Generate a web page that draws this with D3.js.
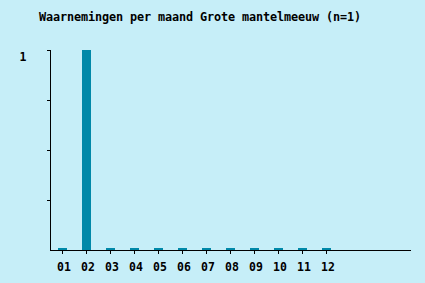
<!DOCTYPE html>
<html>
<head>
<meta charset="utf-8">
<script src="https://cdn.jsdelivr.net/npm/d3@7"></script>
<style>
  html, body { margin: 0; padding: 0; background: #c6eef8; }
  svg { display: block; }
  text { font-family: "DejaVu Sans Mono", monospace; font-weight: bold; fill: #000; }
</style>
</head>
<body>
<svg id="chart" width="425" height="283"></svg>
<script>
const title = "Waarnemingen per maand Grote mantelmeeuw (n=1)";
const months = ["01","02","03","04","05","06","07","08","09","10","11","12"];
const counts = [0, 1, 0, 0, 0, 0, 0, 0, 0, 0, 0, 0];
const slots = months.concat(["s13","s14","s15"]);
const yTicks = [0, 0.25, 0.5, 0.75, 1];
const yLabels = [1];

const svg = d3.select("#chart");
svg.append("rect").attr("width", 425).attr("height", 283).attr("fill", "#c6eef8");

const x = d3.scaleBand().domain(slots).range([50, 410]);
const y = d3.scaleLinear().domain([0, 1]).range([250, 50]);
const barW = 9;
const minH = 2;

svg.append("text")
  .attr("x", 39).attr("y", 20.5)
  .attr("textLength", 322)
  .attr("lengthAdjust", "spacing")
  .style("font-size", "11.8px")
  .text(title);

// bars
svg.selectAll("rect.bar").data(months.map((m, i) => ({m, v: counts[i]})))
  .enter().append("rect")
  .attr("class", "bar")
  .attr("x", d => x(d.m) + x.bandwidth() / 2 - barW / 2 + 0.5)
  .attr("width", barW)
  .attr("y", d => Math.min(y(d.v), y(0) - minH))
  .attr("height", d => Math.max(y(0) - y(d.v), minH))
  .attr("fill", "#0088a8");

// y axis line and ticks
const axisColor = "#000";
svg.append("line")
  .attr("x1", 50.5).attr("x2", 50.5)
  .attr("y1", y(1)).attr("y2", y(0) + 0.5)
  .attr("stroke", axisColor).attr("stroke-width", 1);
svg.selectAll("line.ytick").data(yTicks.filter(t => t > 0)).enter().append("line")
  .attr("class", "ytick")
  .attr("x1", 47).attr("x2", 50.5)
  .attr("y1", d => Math.round(y(d)) + 0.5).attr("y2", d => Math.round(y(d)) + 0.5)
  .attr("stroke", axisColor);
svg.selectAll("text.ylab").data(yLabels).enter().append("text")
  .attr("class", "ylab")
  .attr("x", 23).attr("y", d => y(d) + 11)
  .attr("text-anchor", "middle")
  .style("font-size", "11.5px")
  .text(d => d);

// x axis line and ticks
svg.append("line")
  .attr("x1", 50).attr("x2", 411)
  .attr("y1", 250.5).attr("y2", 250.5)
  .attr("stroke", axisColor);
svg.selectAll("line.xtick").data(months).enter().append("line")
  .attr("class", "xtick")
  .attr("x1", d => Math.round(x(d) + x.bandwidth() / 2) + 0.5)
  .attr("x2", d => Math.round(x(d) + x.bandwidth() / 2) + 0.5)
  .attr("y1", 250).attr("y2", 254)
  .attr("stroke", axisColor);
svg.selectAll("text.xlab").data(months).enter().append("text")
  .attr("class", "xlab")
  .attr("x", d => x(d) + x.bandwidth() / 2 + 2)
  .attr("y", 271)
  .attr("text-anchor", "middle")
  .style("font-size", "11.5px")
  .text(d => d);
</script>
</body>
</html>
